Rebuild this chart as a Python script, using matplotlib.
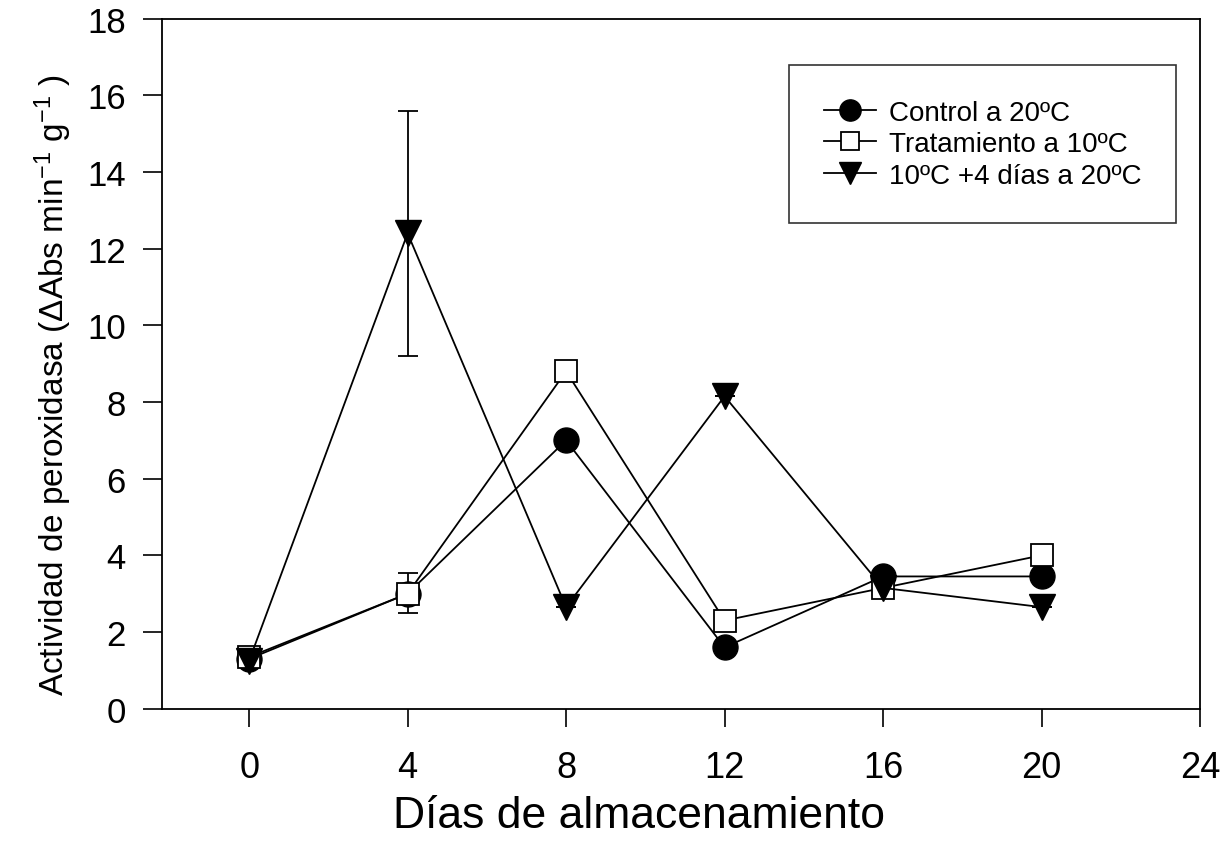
import numpy as np
import matplotlib
matplotlib.use("Agg")
import matplotlib.pyplot as plt

plt.rcParams['font.family'] = ['Liberation Sans', 'DejaVu Sans']
plt.rcParams['mathtext.fontset'] = 'custom'
plt.rcParams['mathtext.rm'] = 'Liberation Sans'
plt.rcParams['mathtext.default'] = 'regular'

# días de almacenamiento
dias = [0, 4, 8, 12, 16, 20]

# actividad de peroxidasa por tratamiento
control = [1.3, 3.0, 7.0, 1.6, 3.45, 3.45]
tratamiento = [1.35, 3.0, 8.8, 2.3, 3.15, 4.0]
tratamiento_err_bajo = [0, 0.5, 0, 0, 0, 0]
tratamiento_err_alto = [0, 0.55, 0, 0, 0, 0]
mas4dias = [1.25, 12.4, 2.65, 8.15, 3.15, 2.65]
mas4dias_err = [0, 3.2, 0, 0, 0, 0]

etiquetas = ["Control a 20ºC", "Tratamiento a 10ºC", "10ºC +4 días a 20ºC"]

fig = plt.figure(figsize=(12.27, 8.53), dpi=100)
ax = fig.add_axes([0.132, 0.168, 0.846, 0.809])

lw = 1.3
# barras de error
ax.errorbar(dias, tratamiento, yerr=[tratamiento_err_bajo, tratamiento_err_alto],
            fmt='none', ecolor='black', capsize=7.5, elinewidth=lw, capthick=lw,
            zorder=2)
ax.errorbar(dias, mas4dias, yerr=mas4dias_err, fmt='none', ecolor='black',
            capsize=7.5, elinewidth=lw, capthick=lw, zorder=2)

h1, = ax.plot(dias, control, '-o', color='black', lw=lw, ms=18,
              mfc='black', mec='black', zorder=3)
h2, = ax.plot(dias, tratamiento, '-s', color='black', lw=lw, ms=16,
              mfc='white', mec='black', mew=1.3, zorder=4)
h3, = ax.plot(dias, mas4dias, '-v', color='black', lw=lw, ms=19,
              mfc='black', mec='black', zorder=5)

ax.set_xlim(-2.2, 24)
ax.set_ylim(0, 18)
ax.set_xticks([0, 4, 8, 12, 16, 20, 24])
ax.set_yticks(np.arange(0, 19, 2))

ax.tick_params(axis='y', direction='out', length=14, width=1.2, pad=12,
               labelsize=25)
ax.tick_params(axis='x', direction='out', length=13, width=1.2, pad=17,
               labelsize=26)
for s in ax.spines.values():
    s.set_linewidth(1.3)

ax.set_xlabel("Días de almacenamiento", fontsize=32)
ax.xaxis.set_label_coords(0.46, -0.125)
ax.set_ylabel("Actividad de peroxidasa (ΔAbs min$^{-1}$ g$^{-1}$ )", fontsize=24)
ax.yaxis.set_label_coords(-0.085, 0.47)

leg = ax.legend([h1, h2, h3], etiquetas, loc='upper right',
                bbox_to_anchor=(0.977, 0.933),
                fontsize=20, frameon=True, fancybox=False, edgecolor='black',
                handlelength=1.9, labelspacing=0.2, handletextpad=0.45,
                borderpad=1.25, markerscale=0.85, borderaxespad=0)
leg.get_frame().set_linewidth(1.2)

fig.savefig("out.png", dpi=100)
